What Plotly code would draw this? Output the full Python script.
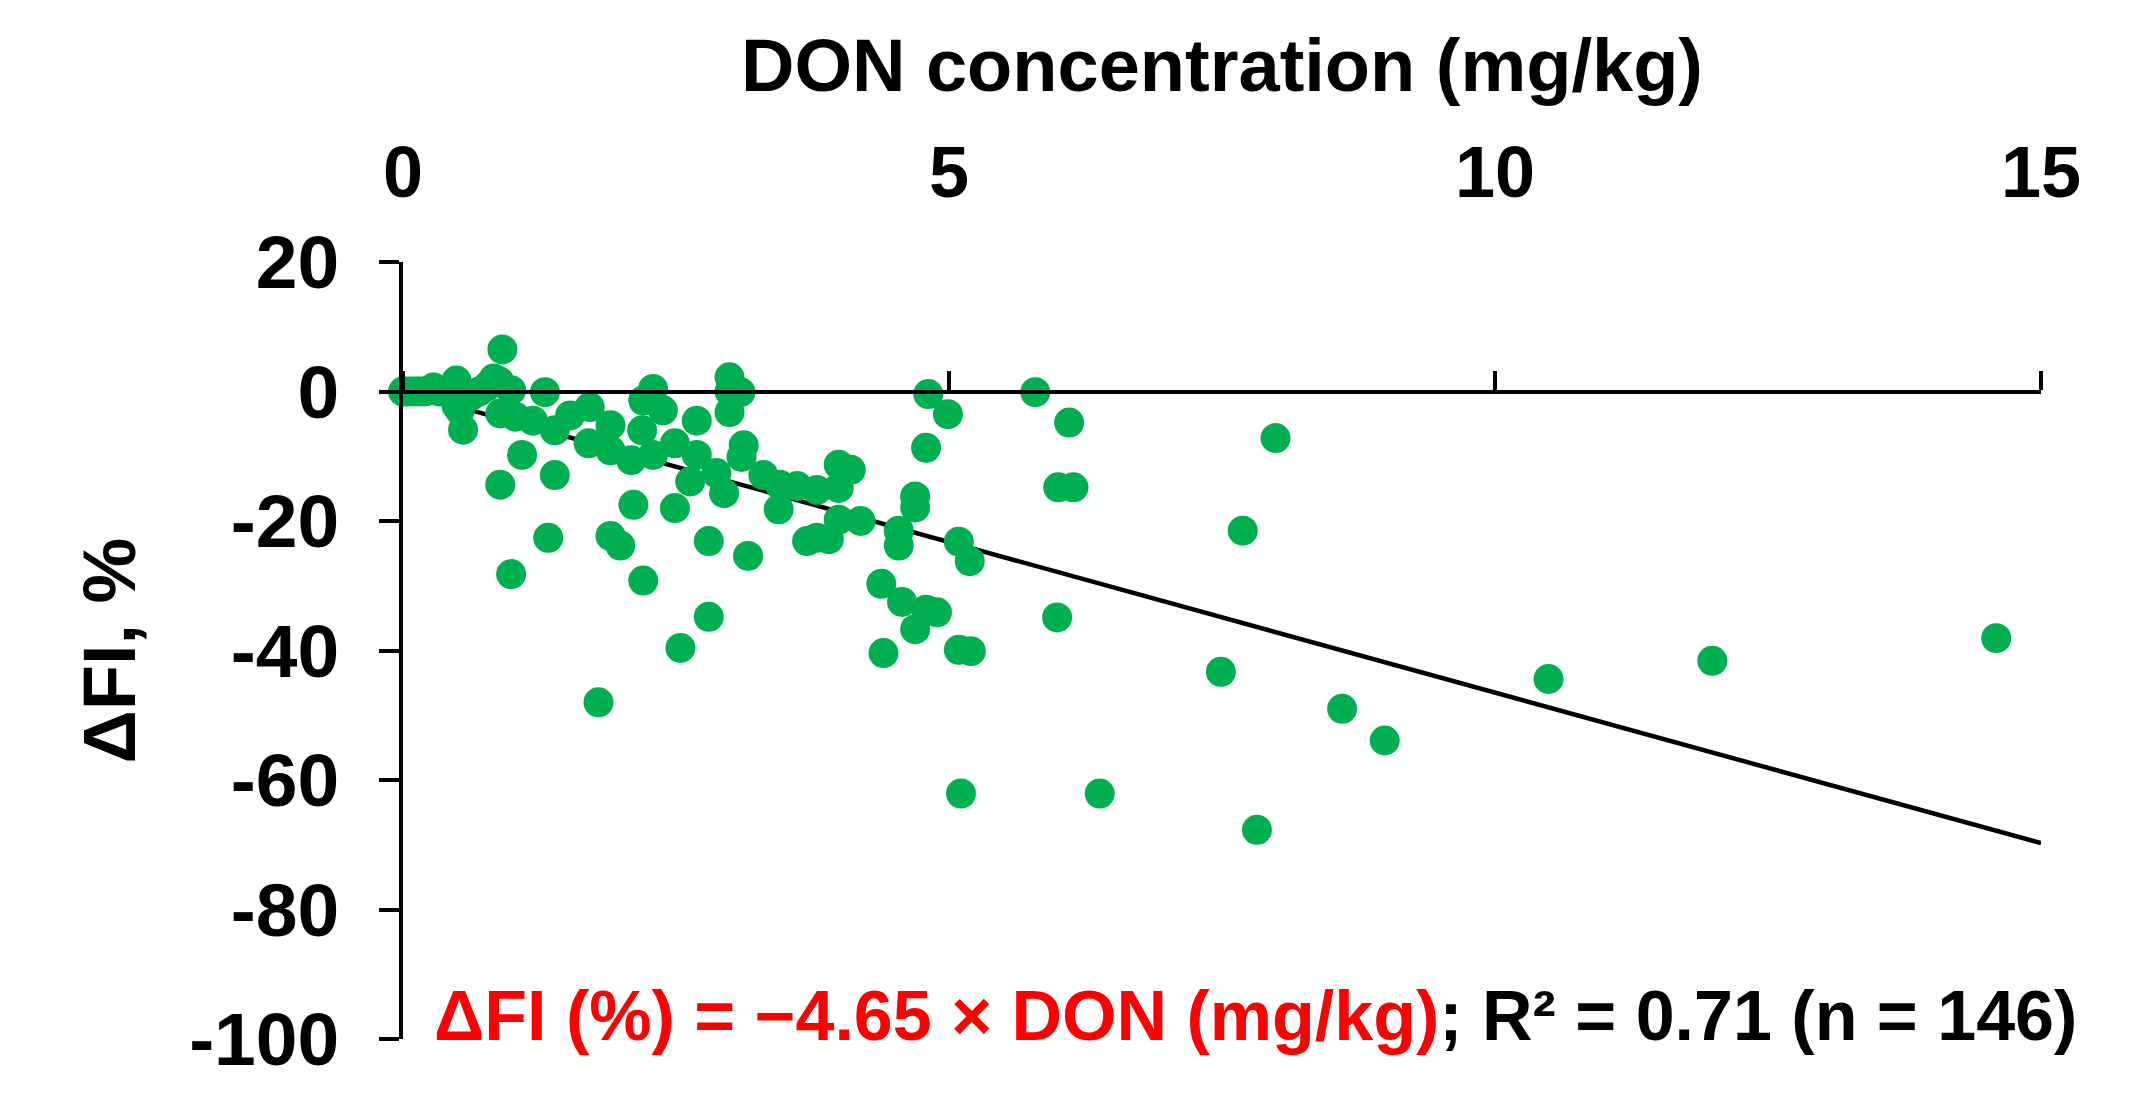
import plotly.graph_objects as go

# DON concentration (mg/kg) and change in feed intake (ΔFI, %)
don_mgkg = [
    0.00, 0.04, 0.08, 0.12, 0.16, 0.20, 0.24, 0.28, 0.33, 0.38, 0.43,
    0.49, 0.50, 0.49, 0.52, 0.55, 0.63, 0.70, 0.77, 0.83, 0.88, 0.91, 0.99,
    0.89, 1.03, 1.19, 1.39, 1.53, 1.71, 1.90, 1.30, 1.70, 1.90, 2.09, 2.29,
    2.49, 2.69, 2.63, 2.87, 2.94, 3.30, 3.45, 3.61, 3.79, 3.99, 4.10, 3.99,
    3.44, 3.99, 4.19, 3.70, 3.79, 3.90, 4.54, 4.54, 4.38, 4.57, 4.40, 2.20,
    2.29, 2.38, 2.69, 2.19, 2.99, 3.09, 2.99, 2.99, 3.12, 3.10, 1.09, 1.39,
    0.89, 1.33, 0.99, 2.11, 2.49, 1.90, 1.99, 2.80, 3.16, 2.20, 2.80, 2.54,
    1.79, 4.81, 4.99, 4.79, 5.79, 6.10, 7.99, 6.00, 6.14, 7.69, 4.69, 4.69,
    5.09, 5.19, 4.79, 4.89, 4.69, 5.09, 5.20, 5.99, 7.49, 8.60, 5.11, 6.38,
    7.82, 8.99, 10.49, 11.99, 14.59,
]
dfi_pct = [
    0.0, 0.0, 0.0, 0.0, 0.0, 0.0, 0.2, 0.6, 0.0, 0.0, 0.0,
    1.7, -0.5, -2.2, -2.9, -5.9, -0.6, 0.0, 0.8, 2.0, 1.6, 6.5, 0.2,
    -3.4, -3.9, -4.5, -6.0, -3.7, -2.4, -5.2, -0.1, -8.0, -9.1, -10.6, -9.8,
    -8.0, -9.8, -13.9, -12.6, -15.7, -12.9, -14.4, -14.6, -15.2, -11.3, -12.1, -14.9,
    -18.2, -19.8, -20.0, -23.1, -22.6, -22.8, -21.5, -23.8, -29.7, -32.5, -40.4, -1.4,
    0.4, -2.9, -4.5, -6.0, 2.2, -0.1, -3.2, 0.0, -8.3, -10.1, -9.8, -12.9,
    -14.4, -22.6, -28.2, -17.5, -18.0, -22.3, -23.8, -23.1, -25.4, -29.2, -34.8, -39.6,
    -48.0, -0.4, -3.5, -8.7, -0.1, -4.8, -7.2, -14.8, -14.8, -21.5, -16.2, -17.9,
    -23.2, -26.2, -33.7, -34.1, -36.7, -39.9, -40.1, -34.9, -43.3, -49.0, -62.1, -62.1,
    -67.7, -53.9, -44.4, -41.6, -38.1,
]

# Fitted regression: ΔFI = -4.65 × DON
slope = -4.65
fit_x = [0, 15]
fit_y = [slope * v for v in fit_x]

x_ticks = [0, 5, 10, 15]
y_ticks = [20, 0, -20, -40, -60, -80, -100]

FONT = "Liberation Sans, Arial, sans-serif"
GREEN = "#00B050"

fig = go.Figure()
fig.add_trace(go.Scatter(
    x=fit_x, y=fit_y, mode="lines",
    line=dict(color="black", width=4.5),
    showlegend=False, hoverinfo="skip", cliponaxis=False,
))
fig.add_trace(go.Scatter(
    x=don_mgkg, y=dfi_pct, mode="markers",
    marker=dict(color=GREEN, size=30, line=dict(width=0)),
    showlegend=False, cliponaxis=False,
))
# invisible companion trace so the zero-crossing x axis (xaxis2) is drawn
fig.add_trace(go.Scatter(
    x=fit_x, y=fit_y, xaxis="x2", yaxis="y", mode="lines",
    line=dict(color="rgba(0,0,0,0)", width=0),
    showlegend=False, hoverinfo="skip",
))

fig.update_layout(
    width=2149, height=1093,
    margin=dict(l=403, r=108, t=262, b=49),
    paper_bgcolor="white", plot_bgcolor="white",
    font=dict(family=FONT, color="black", size=72, weight="bold"),
    xaxis=dict(
        range=[0, 15], side="top", tickvals=x_ticks,
        ticktext=[str(v) for v in x_ticks],
        showline=False, showgrid=False, zeroline=False, ticks="",
        tickfont=dict(family=FONT, size=72, weight="bold"),
        ticklabelstandoff=50,
        title=dict(text="DON concentration (mg/kg)",
                   font=dict(family=FONT, size=74, weight="bold"),
                   standoff=15),
    ),
    xaxis2=dict(
        range=[0, 15], overlaying="x", anchor="free", position=100 / 120,
        side="top", tickvals=x_ticks, showticklabels=False,
        showline=True, linecolor="black", linewidth=3.5,
        ticks="outside", ticklen=19, tickwidth=3.5, tickcolor="black",
        showgrid=False, zeroline=False,
    ),
    yaxis=dict(
        range=[-100, 20], tickvals=y_ticks,
        ticktext=[str(v) for v in y_ticks],
        showline=True, linecolor="black", linewidth=3.5,
        ticks="outside", ticklen=20, tickwidth=3.5, tickcolor="black",
        showgrid=False, zeroline=False,
        tickfont=dict(family=FONT, size=75, weight="bold"),
        ticklabelstandoff=25,
        title=dict(text="ΔFI, %",
                   font=dict(family=FONT, size=74, weight="bold"),
                   standoff=30),
    ),
)

fig.add_annotation(
    xref="paper", yref="paper", x=1.023, y=0.029,
    xanchor="right", yanchor="middle", showarrow=False,
    text="<span style='color:#FF0000'>ΔFI (%) = −4.65 × DON (mg/kg)</span>; R² = 0.71 (n = 146)",
    font=dict(family=FONT, size=70, weight="bold", color="black"),
)

fig.write_html("out.html")
